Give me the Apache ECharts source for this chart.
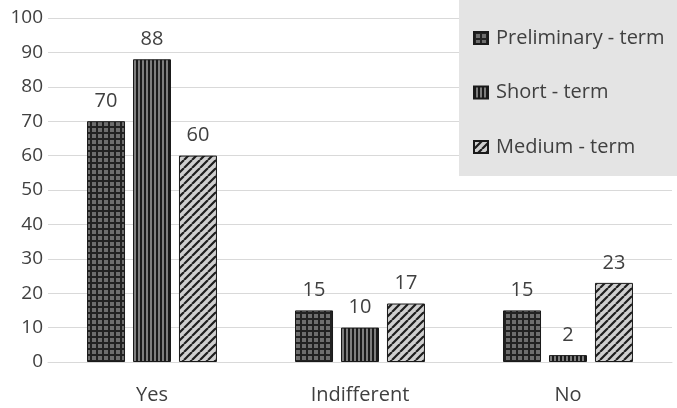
<!DOCTYPE html>
<html>
<head>
<meta charset="utf-8">
<script src="https://cdn.jsdelivr.net/npm/echarts@6/dist/echarts.min.js"></script>
<style>
  html, body { margin: 0; padding: 0; background: #fff; }
  #chart { width: 677px; height: 408px; }
</style>
</head>
<body>
<div id="chart"></div>
<script>
// Survey answers per time horizon
const categories = ['Yes', 'Indifferent', 'No'];
const preliminaryTerm = [70, 15, 15];
const shortTerm = [88, 10, 2];
const mediumTerm = [60, 17, 23];
const seriesNames = ['Preliminary - term', 'Short - term', 'Medium - term'];

// Hatch fills built on small canvases
function makeTile(size, draw) {
  const c = document.createElement('canvas');
  c.width = size; c.height = size;
  const ctx = c.getContext('2d');
  draw(ctx, size);
  return { image: c, repeat: 'repeat' };
}
const gridFill = makeTile(6, (ctx, s) => {
  ctx.fillStyle = '#6e6e6e';
  ctx.fillRect(0, 0, s, s);
  ctx.fillStyle = '#222';
  ctx.fillRect(0, 0, s, 2);
  ctx.fillRect(0, 0, 2, s);
});
const vertFill = makeTile(4, (ctx, s) => {
  ctx.fillStyle = '#7e7e7e';
  ctx.fillRect(0, 0, s, s);
  ctx.fillStyle = '#1a1a1a';
  ctx.fillRect(0, 0, 2, s);
});
const diagFill = makeTile(8, (ctx, s) => {
  ctx.fillStyle = '#cfcfcf';
  ctx.fillRect(0, 0, s, s);
  ctx.strokeStyle = '#1e1e1e';
  ctx.lineWidth = 2.2;
  ctx.beginPath();
  for (let k = -1; k <= 1; k++) {
    ctx.moveTo(k * s, s);
    ctx.lineTo(k * s + s, 0);
  }
  ctx.stroke();
});
const fills = [gridFill, vertFill, diagFill];
const values = [preliminaryTerm, shortTerm, mediumTerm];

const font = 'Open Sans, Liberation Sans, sans-serif';
const chart = echarts.init(document.getElementById('chart'), null, { renderer: 'canvas' });
chart.setOption({
  animation: false,
  backgroundColor: '#fff',
  grid: { left: 48, right: 5, top: 18, bottom: 46 },
  legend: {
    orient: 'vertical',
    left: 459,
    top: 0,
    padding: [28, 60, 19, 14],
    itemGap: 34.5,
    itemWidth: 14,
    itemHeight: 12,
    icon: 'rect',
    backgroundColor: '#e4e4e4',
    textStyle: { fontFamily: font, fontSize: 20, color: '#404040', padding: [0, 0, 0, 3] },
    data: seriesNames
  },
  xAxis: {
    type: 'category',
    data: categories,
    axisLine: { show: true, lineStyle: { color: '#d9d9d9', width: 1 } },
    axisTick: { show: false },
    axisLabel: { fontFamily: font, fontSize: 20, color: '#404040', margin: 23 }
  },
  yAxis: {
    type: 'value',
    min: 0,
    max: 100,
    interval: 10,
    axisLine: { show: false },
    axisTick: { show: false },
    splitLine: { lineStyle: { color: '#d9d9d9', width: 1 } },
    axisLabel: { fontFamily: font, fontSize: 19, color: '#404040', margin: 5 }
  },
  series: seriesNames.map((name, i) => ({
    name,
    type: 'bar',
    data: values[i],
    barWidth: 38,
    barGap: '21%',
    itemStyle: { color: fills[i], borderColor: '#1a1a1a', borderWidth: 1 },
    label: {
      show: true,
      position: 'top',
      distance: 10,
      fontFamily: font,
      fontSize: 20,
      color: '#404040'
    }
  }))
});
</script>
</body>
</html>
